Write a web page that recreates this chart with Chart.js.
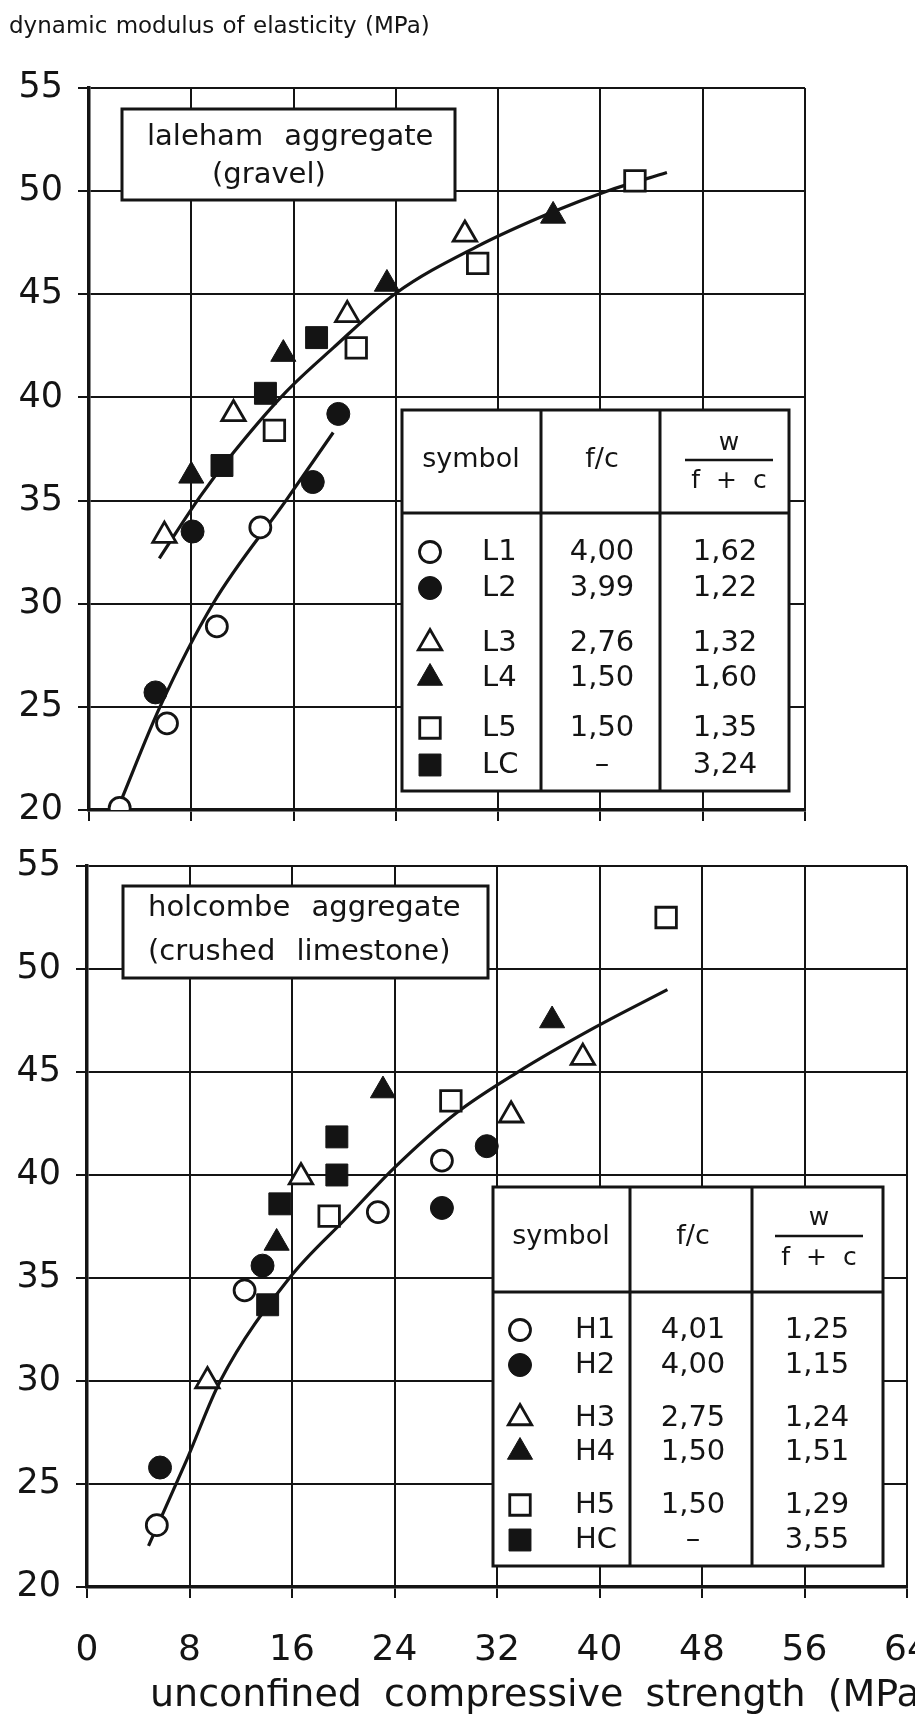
<!DOCTYPE html>
<html><head><meta charset="utf-8">
<script src="https://cdn.jsdelivr.net/npm/chart.js@4.4.1/dist/chart.umd.min.js"></script>
<style>
html,body{margin:0;padding:0;background:#fff;overflow:hidden;width:915px;height:1722px;position:relative;}
#c1{position:absolute;left:0;top:0;}
#c2{position:absolute;left:0;top:820px;}
</style></head><body>
<canvas id="c1" width="915" height="850"></canvas>
<canvas id="c2" width="1000" height="902"></canvas>
<script>
// ---------------- DATA ----------------
const yAxisTitle = 'dynamic modulus of elasticity (MPa)';
const xAxisTitle = 'unconfined compressive strength (MPa)';
const xTickLabels = [0, 8, 16, 24, 32, 40, 48, 56, 64];
const yTickLabels = [20, 25, 30, 35, 40, 45, 50, 55];

const lalehamTitle = ['laleham aggregate', '(gravel)'];
const holcombeTitle = ['holcombe aggregate', '(crushed limestone)'];

// Laleham aggregate (gravel) [strength, modulus]
const L1 = [[2.4, 20.1], [6.1, 24.2], [10.0, 28.9], [13.4, 33.7]];
const L2 = [[5.2, 25.7], [8.1, 33.5], [17.5, 35.9], [19.5, 39.2]];
const L3 = [[5.9, 33.3], [11.3, 39.2], [20.2, 44.0], [29.4, 47.9]];
const L4 = [[8.0, 36.2], [15.2, 42.1], [23.3, 45.5], [36.3, 48.8]];
const L5 = [[14.5, 38.4], [20.9, 42.4], [30.4, 46.5], [42.7, 50.5]];
const LC = [[10.4, 36.7], [13.8, 40.2], [17.8, 42.9]];
const lalehamFitUpper = [[5.5, 32.2], [8.7, 35.2], [11.0, 37.1], [15.3, 40.2], [19.1, 42.4], [24.0, 45.05], [30.3, 47.3], [36.3, 49.0], [40.5, 50.0], [45.2, 50.9]];
const lalehamFitLower = [[2.4, 20.3], [5.55, 25.0], [9.7, 30.0], [15.4, 35.0], [19.1, 38.3]];

// Holcombe aggregate (crushed limestone)
const H1 = [[5.45, 23.0], [12.3, 34.4], [22.7, 38.2], [27.7, 40.7]];
const H2 = [[5.7, 25.8], [13.7, 35.6], [27.7, 38.4], [31.2, 41.4]];
const H3 = [[9.4, 30.0], [16.7, 39.9], [33.1, 42.9], [38.7, 45.7]];
const H4 = [[14.8, 36.7], [23.1, 44.1], [36.3, 47.5]];
const H5 = [[18.9, 38.0], [28.4, 43.6], [45.2, 52.5]];
const HC = [[14.1, 33.7], [15.05, 38.6], [19.5, 40.0], [19.5, 41.85]];
const holcombeFit = [[4.8, 22.0], [7.8, 26.2], [10.4, 30.0], [15.8, 35.0], [20.3, 37.95], [23.9, 40.3], [28.8, 43.0], [33.5, 44.95], [39.75, 47.2], [45.3, 49.0]];

// Tables
const tableHeader = ['symbol', 'f/c', 'w', 'f + c'];
const lalehamCodes = ['L1', 'L2', 'L3', 'L4', 'L5', 'LC'];
const lalehamFC = ['4,00', '3,99', '2,76', '1,50', '1,50', '–'];
const lalehamWFC = ['1,62', '1,22', '1,32', '1,60', '1,35', '3,24'];
const holcombeCodes = ['H1', 'H2', 'H3', 'H4', 'H5', 'HC'];
const holcombeFC = ['4,01', '4,00', '2,75', '1,50', '1,50', '–'];
const holcombeWFC = ['1,25', '1,15', '1,24', '1,51', '1,29', '3,55'];

// ---------------- STYLE ----------------
const INK = '#141414';
const FONT = '"DejaVu Sans", sans-serif';
const markerStyles = [
  { pointStyle: 'circle', filled: false, radius: 10.5 },
  { pointStyle: 'circle', filled: true, radius: 11.5 },
  { pointStyle: 'triangle', filled: false, radius: 13.5 },
  { pointStyle: 'triangle', filled: true, radius: 14.5 },
  { pointStyle: 'rect', filled: false, radius: 14.5 },
  { pointStyle: 'rect', filled: true, radius: 15.5 }
];

function pts(arr) { return arr.map(p => ({ x: p[0], y: p[1] })); }

function makeDatasets(series, fits) {
  const ds = [];
  fits.forEach(f => ds.push({
    type: 'line', data: pts(f), borderColor: INK, borderWidth: 3.2,
    pointRadius: 0, fill: false, cubicInterpolationMode: 'monotone', order: 2
  }));
  series.forEach((s, i) => {
    const m = markerStyles[i];
    ds.push({
      type: 'scatter', data: pts(s), pointStyle: m.pointStyle, pointRadius: m.radius,
      pointBackgroundColor: m.filled ? INK : '#fff', pointBorderColor: INK,
      pointBorderWidth: m.filled ? 1 : 2.8, showLine: false, order: 1
    });
  });
  return ds;
}

function txt(ctx, s, x, y, size, align, ws, baseline) {
  ctx.save();
  ctx.font = size + 'px ' + FONT;
  ctx.fillStyle = INK;
  ctx.textAlign = align || 'left';
  ctx.textBaseline = baseline || 'middle';
  if (ws !== undefined && 'wordSpacing' in ctx) ctx.wordSpacing = ws + 'px';
  ctx.fillText(s, x, y);
  ctx.restore();
}

function drawBox(ctx, B, lines, oy) {
  ctx.save();
  ctx.fillStyle = '#fff';
  ctx.fillRect(B.l, B.t - oy, B.r - B.l, B.b - B.t);
  ctx.strokeStyle = INK; ctx.lineWidth = 3;
  ctx.strokeRect(B.l, B.t - oy, B.r - B.l, B.b - B.t);
  ctx.restore();
  txt(ctx, lines[0], B.x1, B.y1 - oy, 29, 'left', 12);
  txt(ctx, lines[1], B.x2, B.y2 - oy, 29, 'left', 12);
}

function drawTable(ctx, T, codes, fc, wfc, oy) {
  ctx.save();
  ctx.fillStyle = '#fff';
  ctx.fillRect(T.l, T.t - oy, T.r - T.l, T.b - T.t);
  ctx.strokeStyle = INK; ctx.lineWidth = 3;
  ctx.strokeRect(T.l, T.t - oy, T.r - T.l, T.b - T.t);
  ctx.beginPath();
  ctx.moveTo(T.c1, T.t - oy); ctx.lineTo(T.c1, T.b - oy);
  ctx.moveTo(T.c2, T.t - oy); ctx.lineTo(T.c2, T.b - oy);
  ctx.moveTo(T.l, T.h - oy); ctx.lineTo(T.r, T.h - oy);
  ctx.stroke();
  ctx.lineWidth = 2.4;
  ctx.beginPath();
  ctx.moveTo(T.fracL, T.fracY - oy); ctx.lineTo(T.fracR, T.fracY - oy);
  ctx.stroke();
  ctx.restore();
  txt(ctx, tableHeader[0], T.symX, T.hy - oy, 27, 'center');
  txt(ctx, tableHeader[1], T.fcX, T.hy - oy, 27, 'center');
  txt(ctx, tableHeader[2], (T.fracL + T.fracR) / 2, T.wY - oy, 25, 'center');
  txt(ctx, tableHeader[3], (T.fracL + T.fracR) / 2, T.fY - oy, 25, 'center', 8);
  codes.forEach((c, i) => {
    const y = T.rows[i] - oy;
    const m = markerStyles[i];
    ctx.save();
    ctx.fillStyle = m.filled ? INK : '#fff';
    ctx.strokeStyle = INK;
    ctx.lineWidth = m.filled ? 1 : 2.8;
    Chart.helpers.drawPoint(ctx, { pointStyle: m.pointStyle, radius: m.radius, rotation: 0, borderWidth: ctx.lineWidth }, T.mX, y);
    ctx.restore();
    txt(ctx, c, T.codeX, y, 29, 'left');
    txt(ctx, fc[i], T.fcX, y, 29, 'center');
    txt(ctx, wfc[i], T.wX, y, 29, 'center');
  });
}

const annotPlugin = {
  id: 'annot',
  beforeDatasetsDraw(chart, args, o) {
    const ctx = chart.ctx;
    drawBox(ctx, o.box, o.boxLines, o.oy);
    drawTable(ctx, o.table, o.codes, o.fc, o.wfc, o.oy);
  },
  afterDraw(chart, args, o) {
    const ctx = chart.ctx;
    if (o.yTitle) txt(ctx, yAxisTitle, 9, 33, 23, 'left', 1, 'alphabetic');
    if (o.xTitle) txt(ctx, xAxisTitle, 150, 1706 - o.oy, 38, 'left', 10, 'alphabetic');
  }
};

function makeScales(xMax, showX, yWidth, xHeight, xPad) {
  return {
    x: {
      type: 'linear', min: 0, max: xMax,
      afterBuildTicks: s => { s.ticks = xTickLabels.filter(v => v <= xMax).map(v => ({ value: v })); },
      afterFit: s => { s.height = xHeight; },
      ticks: { display: showX, color: INK, font: { family: FONT, size: 36 }, padding: xPad, maxRotation: 0, autoSkip: false },
      grid: { color: INK, lineWidth: 2, tickLength: 11, drawTicks: true },
      border: { display: true, color: INK, width: 3.5 }
    },
    y: {
      type: 'linear', min: 20, max: 55,
      afterBuildTicks: s => { s.ticks = yTickLabels.map(v => ({ value: v })); },
      afterFit: s => { s.width = yWidth; },
      ticks: { color: INK, font: { family: FONT, size: 35 }, padding: 15, autoSkip: false },
      grid: { color: INK, lineWidth: 2, tickLength: 11, drawTicks: true },
      border: { display: true, color: INK, width: 3.5 }
    }
  };
}

const common = {
  responsive: false, animation: false, events: [],
  plugins: { legend: { display: false }, tooltip: { enabled: false } }
};

new Chart(document.getElementById('c1'), {
  type: 'scatter',
  data: { datasets: makeDatasets([L1, L2, L3, L4, L5, LC], [lalehamFitUpper, lalehamFitLower]) },
  plugins: [annotPlugin],
  options: Object.assign({}, common, {
    layout: { padding: { top: 88, right: 110, left: 0, bottom: 0 } },
    scales: makeScales(56, false, 89, 40, 0),
    plugins: {
      legend: { display: false }, tooltip: { enabled: false },
      annot: {
        oy: 0, yTitle: true, xTitle: false,
        box: { l: 122, t: 109, r: 455, b: 200, x1: 147, y1: 137, x2: 212, y2: 175 },
        boxLines: lalehamTitle,
        table: { l: 402, t: 410, r: 789, b: 791, c1: 541, c2: 660, h: 513, symX: 471, fcX: 602, hy: 460,
          wY: 443, fracY: 460, fracL: 685, fracR: 773, fY: 481, rows: [552, 588, 643, 678, 728, 765],
          mX: 430, codeX: 482, wX: 725 },
        codes: lalehamCodes, fc: lalehamFC, wfc: lalehamWFC
      }
    }
  })
});

new Chart(document.getElementById('c2'), {
  type: 'scatter',
  data: { datasets: makeDatasets([H1, H2, H3, H4, H5, HC], [holcombeFit]) },
  plugins: [annotPlugin],
  options: Object.assign({}, common, {
    layout: { padding: { top: 46, right: 93, left: 0, bottom: 0 } },
    scales: makeScales(64, true, 87, 135, 31),
    plugins: {
      legend: { display: false }, tooltip: { enabled: false },
      annot: {
        oy: 820, yTitle: false, xTitle: true,
        box: { l: 123, t: 886, r: 488, b: 978, x1: 148, y1: 908, x2: 148, y2: 952 },
        boxLines: holcombeTitle,
        table: { l: 493, t: 1187, r: 883, b: 1566, c1: 630, c2: 752, h: 1292, symX: 561, fcX: 693, hy: 1237,
          wY: 1218, fracY: 1236, fracL: 775, fracR: 863, fY: 1258, rows: [1330, 1365, 1418, 1452, 1505, 1540],
          mX: 520, codeX: 575, wX: 817 },
        codes: holcombeCodes, fc: holcombeFC, wfc: holcombeWFC
      }
    }
  })
});
</script></body></html>
